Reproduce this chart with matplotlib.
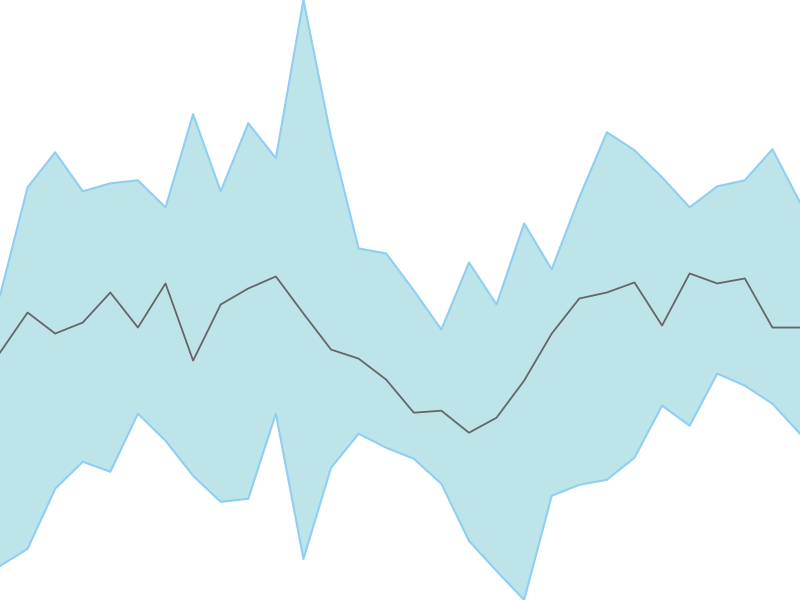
import numpy as np
import matplotlib
matplotlib.use("Agg")
import matplotlib.pyplot as plt

# band upper / lower and the middle series (30 steps)
upper = [305, 413, 448, 409, 417, 420, 393, 486, 409, 477, 442, 600, 463, 352, 347,
         310, 271, 338, 296, 377, 331, 403, 468, 450, 423, 393, 414, 420, 451, 398]
middle = [248, 288, 267, 278, 308, 273, 317, 240, 296, 312, 324, 287, 251, 242, 221,
          188, 190, 168, 183, 220, 267, 302, 308, 318, 275, 327, 317, 322, 273, 273]
lower = [35, 52, 112, 139, 129, 187, 160, 125, 99, 102, 187, 42, 133, 167, 153,
         142, 117, 60, 30, 1, 105, 116, 121, 143, 195, 175, 227, 215, 197, 167]
steps = np.arange(len(middle))

fig = plt.figure(figsize=(8, 6), dpi=100)
ax = fig.add_axes([0, 0, 1, 1])
ax.fill_between(steps, lower, upper, color="#bde4e9", linewidth=0)
ax.plot(steps, upper, color="#8ecff2", linewidth=1.5)
ax.plot(steps, lower, color="#8ecff2", linewidth=1.5)
ax.plot(steps, middle, color="#666666", linewidth=1.3)
ax.set_xlim(steps[0], steps[-1])
ax.set_ylim(min(lower), max(upper))
ax.axis("off")

fig.savefig("out.png", dpi=100)
plt.close(fig)
